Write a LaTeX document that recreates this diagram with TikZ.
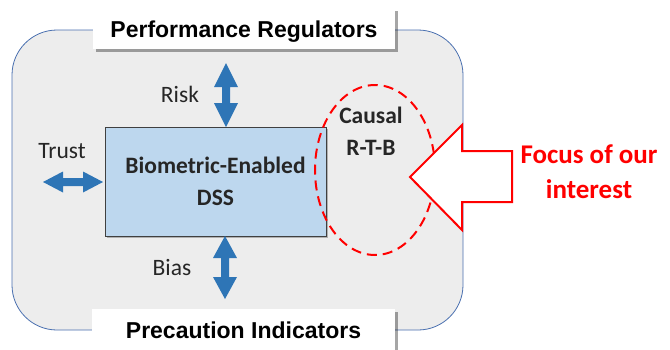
\documentclass[tikz,border=0pt]{standalone}
\usepackage{fontspec}
\setmainfont{Carlito}
\newfontfamily\arialfont{Liberation Sans}
\usetikzlibrary{shadows,shapes.geometric}
\definecolor{framegray}{HTML}{EDEDED}
\definecolor{frameblue}{HTML}{4A70B0}
\definecolor{dssblue}{HTML}{BDD7EE}
\definecolor{dssedge}{HTML}{404040}
\definecolor{arrowblue}{HTML}{2E75B6}
\definecolor{myred}{HTML}{FF0000}
\newcommand\vblockarrow[4]{\fill[arrowblue] (#1,#2) -- ++(12,#4) -- ++(-8,0) -- (#1+4,#3-#4) -- ++(8,0) -- (#1,#3) -- ++(-12,-#4) -- ++(8,0) -- (#1-4,#2+#4) -- ++(-8,0) -- cycle;}
\newcommand\hblockarrow[4]{\fill[arrowblue] (#2,#1) -- ++(#4,-10.5) -- ++(0,6.5) -- (#3-#4,#1-4) -- ++(0,-6.5) -- (#3,#1) -- ++(-#4,10.5) -- ++(0,-6.5) -- (#2+#4,#1+4) -- ++(0,6.5) -- cycle;}
\tikzset{
  labelbox/.style={fill=white, inner sep=0pt, font=\arialfont\bfseries\fontsize{23}{27}\selectfont,
    drop shadow={shadow xshift=3pt, shadow yshift=-3pt, opacity=0.35, fill=black}},
  plain/.style={inner sep=0pt, font=\fontsize{23.5}{28}\selectfont, text=black!85},
  boldtxt/.style={inner sep=0pt, font=\bfseries\fontsize{23.5}{32}\selectfont, align=center},
}
\begin{document}
\begin{tikzpicture}[x=1pt,y=-1pt]
\useasboundingbox (0,0) rectangle (670,349);
\fill[white] (0,0) rectangle (670,349);
% outer frame
\node[draw=frameblue, fill=framegray, line width=0.8pt, rounded corners=45pt, rectangle,
  minimum width=451, minimum height=300, inner sep=0pt] (frame) at (237.5,180) {};
% DSS box
\node[draw=dssedge, fill=dssblue, line width=1pt, rectangle, minimum width=221, minimum height=109,
  inner sep=0pt, boldtxt, text=black!85, execute at begin node={\vspace*{6pt}},
  drop shadow={shadow xshift=2pt, shadow yshift=-2pt, opacity=0.25, fill=black}] (dss) at (215.5,181.5)
  {Biometric-Enabled\\DSS};
% labels boxes
\node[labelbox, minimum width=302, minimum height=41, text height=17pt, text depth=0pt] (perf) at (244,28.5) {Performance Regulators};
\node[labelbox, minimum width=303, minimum height=44, text height=14pt, text depth=0pt] (prec) at (243.5,331) {Precaution Indicators};
% block arrows
\vblockarrow{226}{63}{127}{24}
\vblockarrow{225}{236}{299}{22}
\hblockarrow{182}{43}{103}{20}
\node[plain, anchor=base] (risk) at (180,102) {Risk};
\node[plain, anchor=base] (trust) at (62,158) {Trust};
\node[plain, anchor=base] (bias) at (172,275) {Bias};
% causal ellipse
\node[ellipse, draw=myred, line width=2pt, dash pattern=on 10pt off 6pt, minimum width=120, minimum height=170, inner sep=0pt] (rtb) at (375,170) {};
\node[boldtxt, anchor=base, text=black!85] (causal) at (371,123) {Causal};
\node[boldtxt, anchor=base, text=black!85] (rtbl) at (371,155) {R-T-B};
% big focus arrow
\draw[myred, fill=white, line width=2pt, line join=miter] (410,177) -- (462,125) -- (462,151) -- (512,151) -- (512,202) -- (462,202) -- (462,230) -- cycle;
\node[inner sep=0pt, anchor=base, text=myred, font=\bfseries\fontsize{27}{35}\selectfont] (focus) at (589,163) {Focus of our};
\node[inner sep=0pt, anchor=base, text=myred, font=\bfseries\fontsize{27}{35}\selectfont] (interest) at (589,198) {interest};
\end{tikzpicture}
\end{document}
